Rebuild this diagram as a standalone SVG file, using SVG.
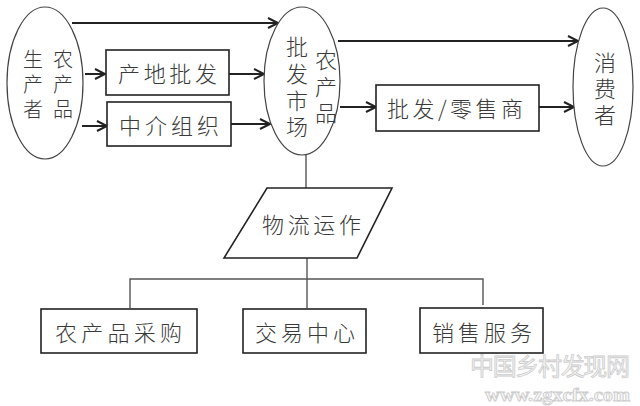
<svg xmlns="http://www.w3.org/2000/svg" width="640" height="406" viewBox="0 0 640 406">
<defs>
<style>
.t{font-family:"Noto Sans CJK SC","Noto Sans CJK JP",sans-serif;font-size:22px;fill:#3a3a3a;font-weight:300}
.v{writing-mode:vertical-rl}
.box{fill:#fff;stroke:#222;stroke-width:1.6}
.ell{fill:#fff;stroke:#444;stroke-width:1.2}
.arr{fill:none;stroke:#222;stroke-width:2;marker-end:url(#ah)}
.ln{fill:none;stroke:#555;stroke-width:1.4}
.wm{font-family:"Noto Sans CJK SC",sans-serif;fill:#f6f6f6;stroke:#cccccc;stroke-width:0.8}
</style>
<marker id="ah" markerUnits="userSpaceOnUse" markerWidth="14" markerHeight="14" refX="11" refY="6" orient="auto">
<path d="M1,1 L11,6 L1,11" fill="none" stroke="#222" stroke-width="2"/>
</marker>
</defs>
<rect width="640" height="406" fill="#fff"/>

<g id="connectors">
<line class="arr" x1="72" y1="23" x2="278" y2="23"/>
<line class="arr" x1="85" y1="74" x2="105" y2="74"/>
<line class="arr" x1="229" y1="74" x2="264" y2="74"/>
<line class="arr" x1="82" y1="126" x2="107" y2="126"/>
<line class="arr" x1="231" y1="124" x2="270" y2="124"/>
<line class="arr" x1="338" y1="41" x2="578" y2="41"/>
<line class="arr" x1="340" y1="107" x2="376" y2="107"/>
<line class="arr" x1="539" y1="107" x2="574" y2="107"/>
<line class="ln" x1="306" y1="155" x2="306" y2="188"/>
<line class="ln" x1="307" y1="258" x2="307" y2="279"/>
<polyline class="ln" points="130,308 130,279 483,279 483,305"/>
<line class="ln" x1="307" y1="279" x2="307" y2="308"/>
</g>

<g id="producer">
<ellipse class="ell" cx="45" cy="83" rx="38" ry="76"/>
<text class="t v" style="font-size:20px;letter-spacing:5px" x="33" y="49">生产者</text>
<text class="t v" style="font-size:20px;letter-spacing:5px" x="63" y="49">农产品</text>
</g>

<g id="origin-wholesale">
<rect class="box" x="106" y="50" width="123" height="45"/>
<text class="t" x="118" y="82" textLength="99" lengthAdjust="spacing">产地批发</text>
</g>

<g id="intermediary">
<rect class="box" x="107" y="102" width="124" height="44"/>
<text class="t" x="119" y="134" textLength="100" lengthAdjust="spacing">中介组织</text>
</g>

<g id="market">
<ellipse class="ell" cx="302" cy="81" rx="38" ry="74"/>
<text class="t v" style="letter-spacing:4.7px" x="297" y="36">批发市场</text>
<text class="t v" style="letter-spacing:4.5px" x="326" y="49">农产品</text>
</g>

<g id="retailer">
<rect class="box" x="376" y="85" width="163" height="46"/>
<text class="t" x="387" y="117" textLength="136" lengthAdjust="spacing">批发/零售商</text>
</g>

<g id="consumer">
<ellipse class="ell" cx="603" cy="87" rx="30" ry="79"/>
<text class="t v" style="letter-spacing:4px" x="605" y="52">消费者</text>
</g>

<g id="logistics">
<polygon class="box" points="267,188 392,188 357,258 224,258"/>
<text class="t" x="262" y="233" textLength="99" lengthAdjust="spacing">物流运作</text>
</g>

<g id="purchase">
<rect class="box" x="41" y="309" width="156" height="44"/>
<text class="t" x="55" y="341" textLength="127" lengthAdjust="spacing">农产品采购</text>
</g>

<g id="trading">
<rect class="box" x="243" y="309" width="123" height="44"/>
<text class="t" x="255" y="341" textLength="100" lengthAdjust="spacing">交易中心</text>
</g>

<g id="sales">
<rect class="box" x="420" y="308" width="123" height="45"/>
<text class="t" x="432" y="341" textLength="100" lengthAdjust="spacing">销售服务</text>
</g>

<g id="watermark">
<text class="wm" x="470" y="375" font-size="24" textLength="160" lengthAdjust="spacing">中国乡村发现网</text>
<text class="wm" x="485" y="401" font-size="18" style="font-family:'Liberation Serif',serif;font-weight:bold" textLength="145" lengthAdjust="spacingAndGlyphs">www.zgxcfx.com</text>
</g>
</svg>
